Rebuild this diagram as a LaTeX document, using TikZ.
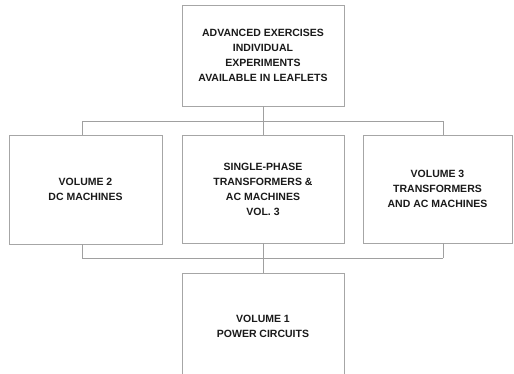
\documentclass[tikz,border=0pt]{standalone}
\usepackage{fontspec}
\setmainfont{Liberation Sans}
\usepackage{xcolor}
\definecolor{boxgray}{HTML}{A6A6A6}
\definecolor{railgray}{HTML}{A0A0A0}
\definecolor{textblack}{HTML}{1A1A1A}
\usetikzlibrary{positioning, calc}
\tikzset{
  every node/.style={font=\fontsize{10.5}{15}\selectfont\bfseries, text=textblack},
  volbox/.style={
    rectangle, draw=boxgray, line width=0.9pt, fill=white,
    align=center, inner sep=2pt
  },
  rail/.style={draw=railgray, line width=0.9pt}
}

\begin{document}
\begin{tikzpicture}[x=1pt, y=1pt]

\useasboundingbox (0, 0) rectangle (514, -373);
\fill[white] (0, 0) rectangle (514, -373);

\begin{scope}
\clip (0, 0) rectangle (514, -373);

% ── Top: advanced exercises ──────────────────────────────────────────────────
\node[volbox, minimum width=162, minimum height=101] (adv) at (263, -55.5)
  {ADVANCED EXERCISES\\INDIVIDUAL\\EXPERIMENTS\\AVAILABLE IN LEAFLETS};

% ── Middle row of volumes (y=-189) ───────────────────────────────────────────
\node[volbox, minimum width=153, minimum height=109] (vol2) at (85.5, -189.5)
  {VOLUME 2\\DC MACHINES};
\node[volbox, minimum width=162, minimum height=108] (sp) at (263, -189)
  {SINGLE-PHASE\\TRANSFORMERS \&\\AC MACHINES\\VOL. 3};
\node[volbox, minimum width=149, minimum height=108] (vol3) at (437.5, -189)
  {VOLUME 3\\TRANSFORMERS\\AND AC MACHINES};

% ── Bottom: volume 1 (runs off the page) ─────────────────────────────────────
\node[volbox, minimum width=162, minimum height=160, anchor=north] (vol1)
  at (263, -273) {};
\node[align=center] (vol1lbl) at ($(vol1.north)+(0,-53)$)
  {VOLUME 1\\POWER CIRCUITS};

% ── Rails ────────────────────────────────────────────────────────────────────
\coordinate (topl) at (82, -121);
\coordinate (topr) at (443, -121);
\coordinate (botl) at (82, -258);
\coordinate (botr) at (443, -258);

\draw[rail] (topl) -- (topr);
\draw[rail] (botl) -- (botr);
\draw[rail] (adv.south) -- (sp.north);
\draw[rail] (sp.south) -- (vol1.north);
\draw[rail] (topl) -- (topl |- vol2.north);
\draw[rail] (topr) -- (topr |- vol3.north);
\draw[rail] (botl) -- (botl |- vol2.south);
\draw[rail] (botr) -- (botr |- vol3.south);

\end{scope}

\end{tikzpicture}
\end{document}
